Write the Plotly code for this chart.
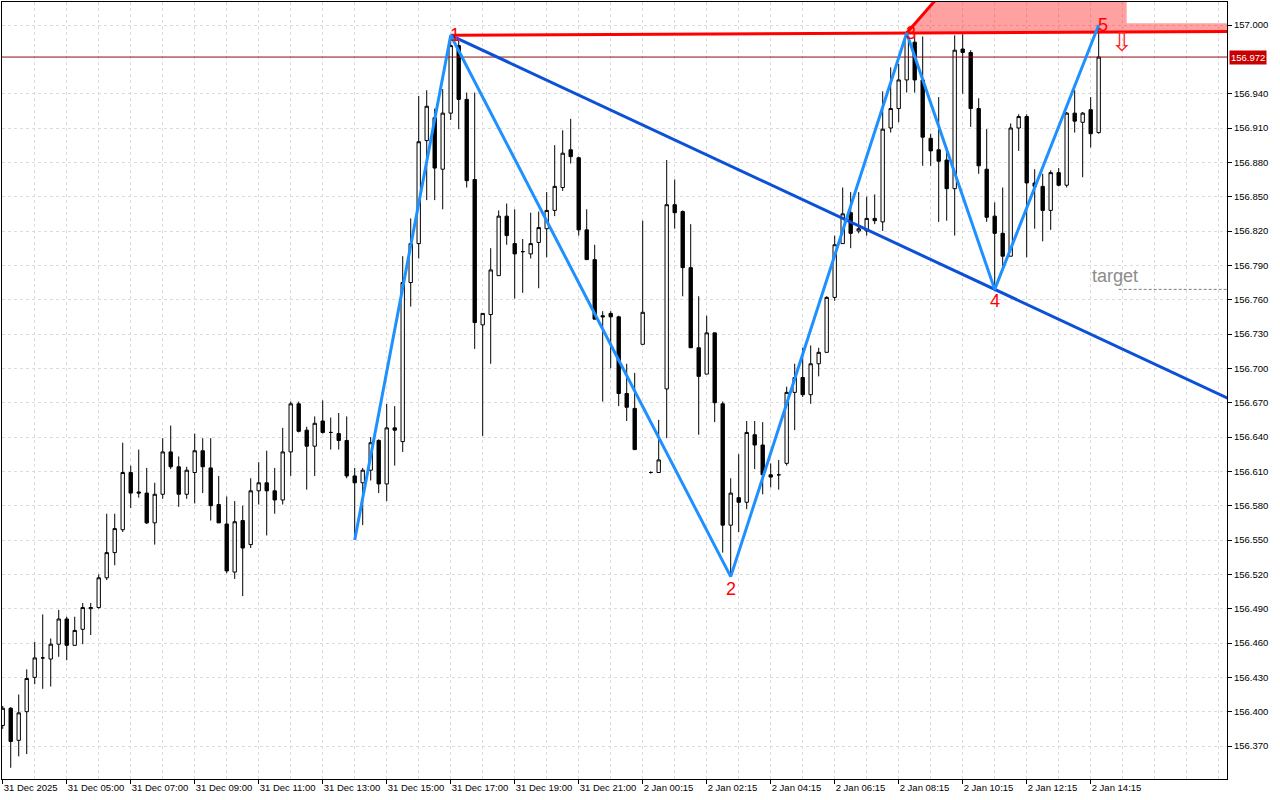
import plotly.graph_objects as go

# ---------------- data (M15 bars, 31 Dec 2025 03:00 -> 2 Jan 14:45) ----------------
opens = [156.388, 156.403, 156.375, 156.400, 156.430, 156.447, 156.446, 156.459, 156.481, 156.458,
         156.472, 156.490, 156.491, 156.517, 156.539, 156.559, 156.609, 156.592, 156.591, 156.565,
         156.590, 156.627, 156.614, 156.590, 156.609, 156.628, 156.613, 156.581, 156.564, 156.522,
         156.567, 156.546, 156.593, 156.600, 156.593, 156.585, 156.627, 156.669, 156.646, 156.632,
         156.654, 156.644, 156.643, 156.637, 156.606, 156.600, 156.611, 156.637, 156.599, 156.648,
         156.636, 156.775, 156.809, 156.899, 156.919, 156.874, 156.923, 156.982, 156.935, 156.865,
         156.738, 156.747, 156.781, 156.833, 156.809, 156.802, 156.800, 156.810, 156.822, 156.838,
         156.858, 156.891, 156.884, 156.821, 156.795, 156.746, 156.748, 156.745, 156.678, 156.665,
         156.721, 156.609, 156.609, 156.682, 156.843, 156.837, 156.788, 156.718, 156.695, 156.731,
         156.669, 156.563, 156.587, 156.583, 156.642, 156.633, 156.607, 156.607, 156.617, 156.679,
         156.692, 156.677, 156.704, 156.714, 156.762, 156.809, 156.836, 156.820, 156.820, 156.831,
         156.828, 156.910, 156.927, 156.952, 156.985, 156.952, 156.901, 156.891, 156.882, 156.857,
         156.979, 156.976, 156.927, 156.874, 156.833, 156.818, 156.798, 156.910, 156.920, 156.862,
         156.859, 156.838, 156.871, 156.860, 156.923, 156.915, 156.926, 156.906]
highs = [156.405, 156.404, 156.415, 156.437, 156.461, 156.485, 156.464, 156.489, 156.483, 156.483,
         156.495, 156.495, 156.520, 156.573, 156.573, 156.635, 156.615, 156.629, 156.613, 156.600,
         156.639, 156.650, 156.623, 156.614, 156.643, 156.639, 156.639, 156.606, 156.588, 156.584,
         156.580, 156.604, 156.618, 156.628, 156.613, 156.648, 156.671, 156.671, 156.649, 156.658,
         156.672, 156.657, 156.661, 156.658, 156.613, 156.613, 156.640, 156.638, 156.669, 156.667,
         156.798, 156.831, 156.938, 156.943, 156.927, 156.944, 156.991, 156.987, 156.941, 156.941,
         156.748, 156.805, 156.838, 156.844, 156.839, 156.813, 156.836, 156.837, 156.854, 156.895,
         156.908, 156.918, 156.885, 156.839, 156.808, 156.750, 156.750, 156.746, 156.704, 156.696,
         156.829, 156.610, 156.655, 156.882, 156.865, 156.838, 156.826, 156.763, 156.746, 156.731,
         156.671, 156.604, 156.625, 156.654, 156.654, 156.653, 156.617, 156.620, 156.684, 156.704,
         156.718, 156.720, 156.718, 156.763, 156.816, 156.858, 156.854, 156.854, 156.850, 156.852,
         156.942, 156.963, 156.966, 156.993, 156.992, 156.990, 156.905, 156.937, 156.893, 156.991,
         156.992, 156.978, 156.936, 156.909, 156.845, 156.858, 156.914, 156.922, 156.922, 156.874,
         156.870, 156.873, 156.875, 156.924, 156.943, 156.924, 156.937, 157.000]
lows = [156.385, 156.351, 156.361, 156.363, 156.424, 156.420, 156.422, 156.448, 156.445, 156.458,
        156.459, 156.467, 156.490, 156.515, 156.528, 156.557, 156.578, 156.587, 156.564, 156.546,
        156.586, 156.612, 156.579, 156.586, 156.582, 156.591, 156.567, 156.565, 156.521, 156.516,
        156.501, 156.543, 156.581, 156.554, 156.573, 156.581, 156.606, 156.644, 156.594, 156.606,
        156.643, 156.629, 156.629, 156.604, 156.550, 156.563, 156.602, 156.591, 156.584, 156.615,
        156.627, 156.754, 156.796, 156.847, 156.847, 156.839, 156.917, 156.909, 156.858, 156.717,
        156.641, 156.704, 156.781, 156.808, 156.761, 156.766, 156.796, 156.770, 156.797, 156.833,
        156.855, 156.879, 156.816, 156.795, 156.743, 156.671, 156.700, 156.667, 156.654, 156.629,
        156.721, 156.608, 156.609, 156.639, 156.822, 156.763, 156.718, 156.642, 156.695, 156.653,
        156.539, 156.518, 156.557, 156.577, 156.612, 156.590, 156.596, 156.594, 156.615, 156.646,
        156.675, 156.669, 156.693, 156.714, 156.759, 156.809, 156.805, 156.818, 156.816, 156.826,
        156.820, 156.906, 156.915, 156.941, 156.941, 156.877, 156.877, 156.828, 156.829, 156.816,
        156.940, 156.911, 156.870, 156.828, 156.769, 156.788, 156.798, 156.890, 156.797, 156.822,
        156.811, 156.821, 156.859, 156.858, 156.906, 156.867, 156.893, 156.905]
closes = [156.403, 156.374, 156.399, 156.429, 156.447, 156.447, 156.459, 156.481, 156.458, 156.471,
          156.491, 156.491, 156.517, 156.539, 156.560, 156.609, 156.591, 156.591, 156.565, 156.590,
          156.627, 156.614, 156.590, 156.611, 156.628, 156.614, 156.580, 156.565, 156.523, 156.566,
          156.543, 156.593, 156.600, 156.593, 156.585, 156.627, 156.669, 156.645, 156.632, 156.652,
          156.644, 156.644, 156.637, 156.606, 156.600, 156.611, 156.635, 156.599, 156.648, 156.646,
          156.775, 156.809, 156.898, 156.929, 156.875, 156.923, 156.982, 156.935, 156.864, 156.740,
          156.748, 156.786, 156.833, 156.816, 156.800, 156.802, 156.809, 156.823, 156.838, 156.859,
          156.888, 156.885, 156.821, 156.795, 156.743, 156.745, 156.745, 156.678, 156.666, 156.629,
          156.749, 156.609, 156.620, 156.843, 156.836, 156.788, 156.718, 156.693, 156.731, 156.670,
          156.563, 156.591, 156.583, 156.644, 156.633, 156.607, 156.605, 156.607, 156.679, 156.692,
          156.677, 156.704, 156.714, 156.762, 156.808, 156.835, 156.818, 156.822, 156.831, 156.829,
          156.909, 156.927, 156.952, 156.990, 156.952, 156.902, 156.890, 156.881, 156.857, 156.978,
          156.976, 156.927, 156.877, 156.832, 156.818, 156.798, 156.910, 156.920, 156.862, 156.859,
          156.838, 156.871, 156.860, 156.923, 156.916, 156.923, 156.905, 156.972]
bar_index = list(range(len(closes)))

# Elliott wave points 0-5 (bar index, price)
wave_bars = [44, 56, 91, 113, 124, 137]
wave_prices = [156.550, 156.991, 156.518, 156.993, 156.769, 157.000]
wave_labels = ["", "1", "2", "3", "4", "5"]

# time-axis labels (every 8 bars)
tick_bars = [0, 8, 16, 24, 32, 40, 48, 56, 64, 72, 80, 88, 96, 104, 112, 120, 128, 136]
tick_labels = ["31 Dec 2025", "31 Dec 05:00", "31 Dec 07:00", "31 Dec 09:00", "31 Dec 11:00",
               "31 Dec 13:00", "31 Dec 15:00", "31 Dec 17:00", "31 Dec 19:00", "31 Dec 21:00",
               "2 Jan 00:15", "2 Jan 02:15", "2 Jan 04:15", "2 Jan 06:15", "2 Jan 08:15",
               "2 Jan 10:15", "2 Jan 12:15", "2 Jan 14:15"]

price_labels = ["156.370", "156.400", "156.430", "156.460", "156.490", "156.520", "156.550",
                "156.580", "156.610", "156.640", "156.670", "156.700", "156.730", "156.760",
                "156.790", "156.820", "156.850", "156.880", "156.910", "156.940", "157.000"]

current_price = 156.972
# sell zone above the 1-3 line: diagonal end, step bar and step price
zone_diag_end = (116.5, 157.021)
zone_step_bar = 140.5
zone_step_price = 157.0015
target_start_bar = 139.5

# ---------------- layout helpers ----------------
X_RANGE = [-0.09, 153.04]
Y_RANGE = [156.3412, 157.0201]
x_end = X_RANGE[1] + 0.5


def line_through(b0, p0, b1, p1, b):
    return p0 + (p1 - p0) * (b - b0) / (b1 - b0)


fig = go.Figure()

fig.add_trace(go.Candlestick(
    x=bar_index, open=opens, high=highs, low=lows, close=closes,
    increasing=dict(line=dict(color="black", width=1), fillcolor="white"),
    decreasing=dict(line=dict(color="black", width=1), fillcolor="black"),
    whiskerwidth=0, showlegend=False, hoverinfo="skip"))

# current price line
fig.add_trace(go.Scatter(x=[X_RANGE[0] - 1, x_end], y=[current_price, current_price], mode="lines",
                         line=dict(color="#8b1010", width=1), showlegend=False, hoverinfo="skip"))

# sell zone polygon
b1, p1 = wave_bars[1], wave_prices[1]
b3, p3 = wave_bars[3], wave_prices[3]
red_end = line_through(b1, p1, b3, p3, x_end)
zone_x = [b3, zone_diag_end[0], zone_step_bar, zone_step_bar, x_end, x_end, b3]
zone_y = [p3, zone_diag_end[1], zone_diag_end[1], zone_step_price, zone_step_price, red_end, p3]
fig.add_trace(go.Scatter(x=zone_x, y=zone_y, mode="lines", fill="toself",
                         fillcolor="rgba(255,0,0,0.37)", line=dict(width=0),
                         showlegend=False, hoverinfo="skip"))
# red diagonal edge
fig.add_trace(go.Scatter(x=[b3, zone_diag_end[0]], y=[p3, zone_diag_end[1]], mode="lines",
                         line=dict(color="#ff0000", width=3), showlegend=False, hoverinfo="skip"))
# red 1-3 line extended
fig.add_trace(go.Scatter(x=[b1, x_end], y=[p1, red_end], mode="lines",
                         line=dict(color="#ff0000", width=3), showlegend=False, hoverinfo="skip"))

# target dashed line
fig.add_trace(go.Scatter(x=[target_start_bar, x_end], y=[wave_prices[4], wave_prices[4]], mode="lines",
                         line=dict(color="#808080", width=1, dash="3px,2px"),
                         showlegend=False, hoverinfo="skip"))

# dark blue 1-4 line extended
b4, p4 = wave_bars[4], wave_prices[4]
fig.add_trace(go.Scatter(x=[b1, x_end], y=[p1, line_through(b1, p1, b4, p4, x_end)], mode="lines",
                         line=dict(color="#0c50d8", width=3), showlegend=False, hoverinfo="skip"))

# wave zigzag
fig.add_trace(go.Scatter(x=wave_bars, y=wave_prices, mode="lines",
                         line=dict(color="#1e90ff", width=3), showlegend=False, hoverinfo="skip"))

# wave labels
for b, p, t in zip(wave_bars, wave_prices, wave_labels):
    if not t:
        continue
    below = t in ("2", "4")
    fig.add_annotation(x=b, y=p, text=t, showarrow=False,
                       font=dict(family="Liberation Sans, Arial, sans-serif", size=18, color="#ff0000"),
                       xshift=0 if below else 4, yshift=-12 if below else 0)

# target label
fig.add_annotation(x=target_start_bar - 3.6, y=wave_prices[4], text="target", showarrow=False,
                   xanchor="left", yanchor="bottom", yshift=1,
                   font=dict(family="Liberation Sans, Arial, sans-serif", size=18, color="#8c8c8c"))

# sell arrow
fig.add_annotation(x=wave_bars[5] + 2.9, y=156.9855, text="\u21e9", showarrow=False,
                   font=dict(family="DejaVu Sans", size=26, color="#ff2020"))

# current price tag on the axis
fig.add_annotation(xref="paper", x=1, y=current_price, text=f"{current_price:.3f}", showarrow=False,
                   xanchor="left", xshift=2, bgcolor="#c80000", borderpad=1,
                   font=dict(family="Liberation Sans, Arial, sans-serif", size=9.5, color="white"))

grid = dict(gridcolor="#dcdcdc", griddash="3px,3px", gridwidth=1)
fig.update_layout(
    width=1280, height=800,
    margin=dict(l=2, r=53, t=2, b=21, autoexpand=False),
    paper_bgcolor="white", plot_bgcolor="white",
    boxgap=0.4,
    font=dict(family="Liberation Sans, Arial, sans-serif", size=9.5, color="black"),
    xaxis=dict(range=X_RANGE, tickmode="array", tickvals=tick_bars, ticktext=tick_labels,
               tickangle=0, automargin=False,
               ticks="outside", ticklen=4, tickcolor="black", ticklabelposition="outside right",
               showgrid=True, **grid, zeroline=False,
               minor=dict(tickmode="linear", tick0=0, dtick=4, showgrid=True, ticklen=0, **grid),
               showline=True, linecolor="black", linewidth=1, mirror=True,
               rangeslider=dict(visible=False), fixedrange=True),
    yaxis=dict(range=Y_RANGE, side="right", tickmode="array", automargin=False,
               tickvals=[float(v) for v in price_labels], ticktext=price_labels,
               ticks="outside", ticklen=4, tickcolor="black",
               showgrid=True, **grid, zeroline=False,
               showline=True, linecolor="black", linewidth=1, mirror=True, fixedrange=True),
)

fig.write_html("out.html", config={"displayModeBar": False},
               post_script="document.body.style.margin='0';document.body.style.overflow='hidden';")
